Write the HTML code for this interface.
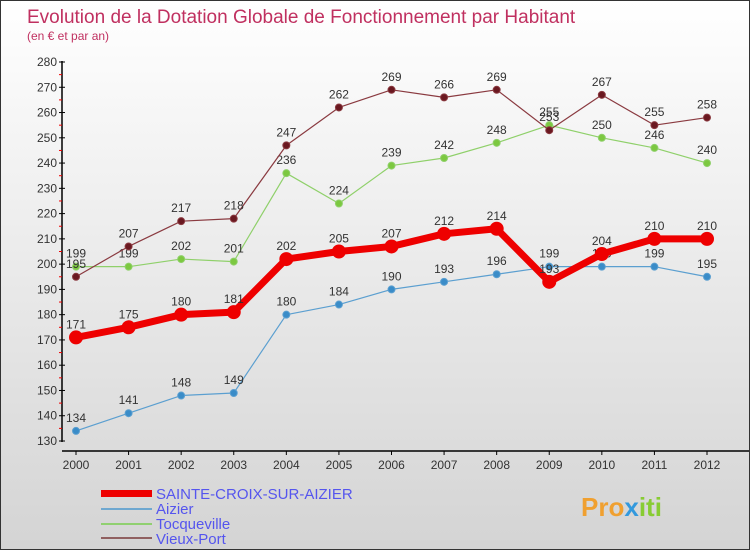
<!DOCTYPE html>
<html><head><meta charset="utf-8"><style>
body{margin:0}
#c{width:748px;height:548px;border:1px solid #333;background:linear-gradient(#fff,#d4d4d4);position:relative;font-family:"Liberation Sans",sans-serif}
</style></head><body>
<div id="c">
<svg id="s" width="748" height="548" style="position:absolute;left:0;top:0">
<text x="26" y="22" font-size="19" fill="#c03060">Evolution de la Dotation Globale de Fonctionnement par Habitant</text>
<text x="26" y="39" font-size="12" fill="#c03060">(en € et par an)</text>
<g id="ax"></g><g id="ser"></g>
<g font-size="15" fill="#5555ee">
<rect x="100" y="489" width="51" height="7" fill="#e00"/>
<text x="155" y="498">SAINTE-CROIX-SUR-AIZIER</text>
<rect x="100" y="507" width="51" height="2" fill="#6fa8d0"/>
<text x="155" y="513">Aizier</text>
<rect x="100" y="522" width="51" height="2" fill="#90d070"/>
<text x="155" y="528">Tocqueville</text>
<rect x="100" y="536" width="51" height="2" fill="#906060"/>
<text x="155" y="543">Vieux-Port</text>
</g>
<text x="580" y="515" font-size="26" font-weight="bold" fill="#f0a030">Pro<tspan fill="#3399dd">x</tspan><tspan fill="#88cc33">iti</tspan></text>
</svg>
</div>
<script>
const years=[2000,2001,2002,2003,2004,2005,2006,2007,2008,2009,2010,2011,2012];
const yTicks=[130,140,150,160,170,180,190,200,210,220,230,240,250,260,270,280];
const sainte=[171,175,180,181,202,205,207,212,214,193,204,210,210];
const aizier=[134,141,148,149,180,184,190,193,196,199,199,199,195];
const tocq=[199,199,202,201,236,224,239,242,248,255,250,246,240];
const vieux=[195,207,217,218,247,262,269,266,269,253,267,255,258];
const NS="http://www.w3.org/2000/svg";
const X=i=>75+i*(706-75)/12;
const Y=v=>440-(v-130)*(440-61)/150;
function mk(t,a,p){const e=document.createElementNS(NS,t);for(const k in a)e.setAttribute(k,a[k]);p.appendChild(e);return e;}
const ax=document.getElementById('ax');
let l=mk('line',{x1:61,y1:60,x2:61,y2:441,stroke:'#000','stroke-width':1.5},ax);


l=mk('line',{x1:61,y1:450,x2:748,y2:450,stroke:'#000','stroke-width':1.5},ax);


yTicks.forEach((v,i)=>{
 mk('line',{x1:58,x2:64,y1:Y(v),y2:Y(v),stroke:'#000'},ax);
 if(i<yTicks.length-1)mk('line',{x1:58,x2:61,y1:Y(v+5),y2:Y(v+5),stroke:'#e00'},ax);
 const t=mk('text',{x:56,y:Y(v)+4,'text-anchor':'end','font-size':12,fill:'#333'},ax);
 
 
 t.textContent=v;
});
years.forEach((y,i)=>{
 mk('line',{x1:X(i),x2:X(i),y1:450,y2:454,stroke:'#000'},ax);
 const t=mk('text',{x:X(i),y:468,'text-anchor':'middle','font-size':12,fill:'#333'},ax);
 
 
 t.textContent=y;
});
const ser=document.getElementById('ser');
function draw(d,col,w,r,name,dot){
 const g=mk('g',{},ser);
 
 
 const p=mk('polyline',{points:d.map((v,i)=>X(i)+','+Y(v)).join(' '),fill:'none',stroke:col,'stroke-width':w,'stroke-linejoin':'round'},g);
 
 
 d.forEach((v,i)=>{
  const c=mk('circle',{cx:X(i),cy:Y(v),r:r,fill:dot,stroke:col,'stroke-width':1},g);
  
  
  const t=mk('text',{x:X(i),y:Y(v)-9,'text-anchor':'middle','font-size':12,fill:'#333'},g);
  
  
  t.textContent=v;
 });
}
draw(aizier,'#5b9fd0',1.2,3.5,'aizier','#3a8cc8');
draw(tocq,'#8fd06a',1.2,3.5,'tocqueville','#7cc840');
draw(vieux,'#8a3a40',1.2,3.5,'vieux-port','#6a1820');
draw(sainte,'#ee0000',7,6.5,'sainte-croix','#ee0000');
</script>
</body></html>
